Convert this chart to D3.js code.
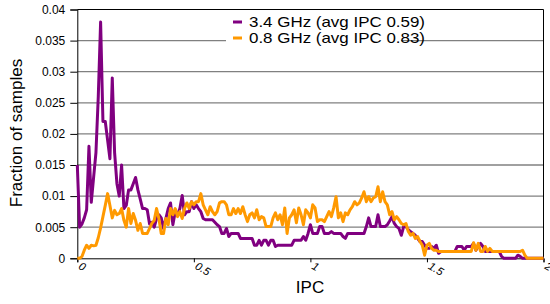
<!DOCTYPE html>
<html lang="en">
<head>
	<meta charset="UTF-8">
	<title>IPC distribution</title>
	<script src="https://cdn.jsdelivr.net/npm/d3@7/dist/d3.min.js"></script>
	<style>
		body { margin: 0; background: #fff; }
		svg { display: block; }
		text { font-family: "Liberation Sans", Arial, sans-serif; fill: #000; }
	</style>
</head>
<body>
<svg width="550" height="304"></svg>
<script>
	// histogram bins of IPC, 0.01 wide, from 0 to 2
	const binWidth = 0.01;

	const seriesNames = ["3.4 GHz (avg IPC 0.59)", "0.8 GHz (avg IPC 0.83)"];
	const seriesColors = ["#800080", "#ff9900"];

	const ghz34 = [
		0.015, 0.005, 0.0055, 0.0065, 0.0078, 0.018, 0.009, 0.013, 0.017, 0.026,
		0.038, 0.022, 0.022, 0.019, 0.016, 0.029, 0.017, 0.012, 0.010, 0.015,
		0.008, 0.0085, 0.011, 0.011, 0.012, 0.013, 0.011, 0.0095, 0.008, 0.008,
		0.0078, 0.0055, 0.0058, 0.005, 0.0064, 0.007, 0.0065, 0.0048, 0.0064, 0.008,
		0.0089, 0.0054, 0.0075, 0.007, 0.008, 0.0101, 0.007, 0.0075, 0.0075, 0.0091,
		0.008, 0.0086, 0.008, 0.0075, 0.0064, 0.0062, 0.0062, 0.0062, 0.0062, 0.0058,
		0.0054, 0.0051, 0.004, 0.004, 0.0048, 0.0035, 0.004, 0.004, 0.004, 0.004,
		0.0032, 0.0032, 0.0032, 0.0032, 0.0032, 0.0032, 0.0021, 0.0021, 0.0029, 0.0021,
		0.0029, 0.0029, 0.0021, 0.0029, 0.0029, 0.0019, 0.0021, 0.0021, 0.0021, 0.0021,
		0.0021, 0.0021, 0.0021, 0.0029, 0.0029, 0.0029, 0.0029, 0.0035, 0.0029, 0.004,
		0.0054, 0.004, 0.004, 0.004, 0.0051, 0.0051, 0.004, 0.004, 0.004, 0.0043,
		0.004, 0.004, 0.004, 0.004, 0.0035, 0.0032, 0.004, 0.004, 0.004, 0.004,
		0.004, 0.004, 0.004, 0.004, 0.0051, 0.0065, 0.0051, 0.0051, 0.0051, 0.007,
		0.0051, 0.0051, 0.0051, 0.0054, 0.006, 0.0067, 0.0056, 0.0051, 0.0048, 0.0037,
		0.0051, 0.0051, 0.0046, 0.0043, 0.004, 0.0037, 0.0032, 0.0027, 0.0027, 0.0021,
		0.0016, 0.0016, 0.0019, 0.0016, 0.0021, 0.0008, 0.0011, 0.0011, 0.0011, 0.0011,
		0.0011, 0.0011, 0.0011, 0.0019, 0.0019, 0.0019, 0.0013, 0.0019, 0.0019, 0.0019,
		0.0024, 0.0013, 0.0019, 0.0024, 0.0019, 0.0011, 0.0011, 0.0011, 0.0011, 0.0011,
		0.0011, 0.0011, 0.0003, 0, 0, 0, 0, 0, 0, 0.0005,
		0.0003, 0, 0, 0, 0, 0, 0, 0, 0, 0,
		0
	];

	const ghz08 = [
		0, 0, 0.0003, 0.0013, 0.0021, 0.0016, 0.0021, 0.002, 0.0021, 0.0033,
		0.0049, 0.0067, 0.0085, 0.0104, 0.0085, 0.0065, 0.0077, 0.007, 0.0072, 0.008,
		0.0061, 0.005, 0.008, 0.0056, 0.0072, 0.0061, 0.0045, 0.0056, 0.004, 0.004,
		0.004, 0.0048, 0.0056, 0.0061, 0.008, 0.0064, 0.004, 0.004, 0.0064, 0.0054,
		0.008, 0.007, 0.008, 0.0067, 0.0075, 0.0064, 0.008, 0.0089, 0.008, 0.0091,
		0.0086, 0.0091, 0.0091, 0.0104, 0.0086, 0.0078, 0.007, 0.0083, 0.0075, 0.007,
		0.0075, 0.0089, 0.0091, 0.0091, 0.0086, 0.007, 0.007, 0.008, 0.0072, 0.008,
		0.0072, 0.0083, 0.007, 0.0059, 0.007, 0.0073, 0.0065, 0.0078, 0.0062, 0.0067,
		0.0065, 0.0051, 0.0051, 0.0051, 0.0065, 0.0073, 0.0062, 0.007, 0.0054, 0.0081,
		0.004, 0.0065, 0.007, 0.0078, 0.0057, 0.0081, 0.007, 0.0054, 0.0078, 0.0073,
		0.0065, 0.0086, 0.0081, 0.0059, 0.0062, 0.0062, 0.0059, 0.0067, 0.0075, 0.0067,
		0.0081, 0.0099, 0.0065, 0.0073, 0.0059, 0.0073, 0.007, 0.0078, 0.0083, 0.0091,
		0.0086, 0.0089, 0.0097, 0.0107, 0.0091, 0.0099, 0.0091, 0.0097, 0.0099, 0.0115,
		0.0091, 0.0107, 0.0091, 0.0086, 0.007, 0.0075, 0.0062, 0.0067, 0.0062, 0.0056,
		0.0054, 0.0056, 0.0043, 0.0037, 0.004, 0.0032, 0.0035, 0.0027, 0.0021, 0.0005,
		0.0021, 0.0024, 0.0016, 0.0013, 0.0013, 0.0011, 0.0011, 0.0011, 0.0011, 0.0011,
		0.0011, 0.0011, 0.0011, 0.0011, 0.0011, 0.0011, 0.0011, 0.0011, 0.0011, 0.0011,
		0.0025, 0.0013, 0.0024, 0.0011, 0.0011, 0.0019, 0.0011, 0.0016, 0.0011, 0.0011,
		0.0011, 0.0011, 0.0011, 0.0011, 0.0011, 0.0011, 0.0011, 0.0011, 0.0011, 0.0011,
		0.0011, 0.0013, 0.0005, 0, 0, 0, 0, 0, 0, 0,
		0
	];

	const xTicks = [0, 0.5, 1, 1.5, 2];
	const xTickLabels = ["0", "0.5", "1", "1.5", "2"];
	const yTicks = [0, 0.005, 0.01, 0.015, 0.02, 0.025, 0.03, 0.035, 0.04];
	const yTickLabels = ["0", "0.005", "0.01", "0.015", "0.02", "0.025", "0.03", "0.035", "0.04"];

	const margin = { top: 9.5, right: 6.5, bottom: 45.7, left: 77.3 },
		width = 550 - margin.left - margin.right,
		height = 304 - margin.top - margin.bottom;

	const svg = d3.select("svg");
	const g = svg.append("g").attr("transform", `translate(${margin.left},${margin.top})`);

	const x = d3.scaleLinear().domain([0, 2]).range([0, width]);
	const y = d3.scaleLinear().domain([0, 0.04]).range([height, 0]);

	// gridlines
	g.append("g")
		.selectAll("line")
		.data(yTicks.filter(d => d > 0 && d < 0.04))
		.enter()
		.append("line")
		.attr("x1", 0).attr("x2", width)
		.attr("y1", d => y(d)).attr("y2", d => y(d))
		.style("stroke", "#808080")
		.style("stroke-width", 1.3);

	// frame: top and right
	g.append("path")
		.attr("d", `M0,${y(0.04)}H${width}V${height}`)
		.style("fill", "none")
		.style("stroke", "#000")
		.style("stroke-width", 1);

	// y axis
	const yAxis = g.append("g")
		.call(d3.axisLeft(y).tickValues(yTicks).tickSize(7).tickPadding(5)
			.tickFormat((d, i) => yTickLabels[i]));
	yAxis.select(".domain").style("stroke", "#000");
	yAxis.selectAll("line").style("stroke", "#000");
	yAxis.selectAll("text")
		.style("font-size", "12px")
		.style("font-family", "'Liberation Sans', Arial, sans-serif");

	// x axis
	const xAxis = g.append("g")
		.attr("transform", `translate(0,${height})`)
		.call(d3.axisBottom(x).tickValues(xTicks).tickSize(4).tickFormat((d, i) => xTickLabels[i]));
	xAxis.select(".domain").style("stroke", "#000");
	xAxis.selectAll("line").style("stroke", "#000");
	xAxis.selectAll("text")
		.attr("y", 0).attr("dy", 0)
		.attr("text-anchor", "start")
		.attr("transform", "translate(0,10) rotate(30)")
		.style("font-size", "11px")
		.style("font-style", "italic")
		.style("font-family", "'Liberation Sans', Arial, sans-serif");

	// series lines
	const line = d3.line()
		.x((d, i) => x(i * binWidth))
		.y(d => y(d));

	[ghz34, ghz08].forEach((s, k) => {
		g.append("path")
			.attr("d", line(s))
			.style("fill", "none")
			.style("stroke", seriesColors[k])
			.style("stroke-width", 3)
			.style("stroke-linejoin", "round");
	});

	// legend (white box hides the grid behind it)
	svg.append("rect")
		.attr("x", 226).attr("y", 11)
		.attr("width", 175).attr("height", 32)
		.style("fill", "#fff");

	const legend = svg.append("g")
		.selectAll("g")
		.data(seriesNames)
		.enter()
		.append("g")
		.attr("transform", (d, i) => `translate(233,${22 + i * 16})`);

	legend.append("line")
		.attr("x1", 0).attr("x2", 9)
		.style("stroke", (d, i) => seriesColors[i])
		.style("stroke-width", 3);

	legend.append("text")
		.attr("x", 16).attr("y", 5)
		.attr("textLength", 176)
		.attr("lengthAdjust", "spacingAndGlyphs")
		.style("font-size", "15px")
		.text(d => d);

	// axis titles
	svg.append("text")
		.attr("x", 310).attr("y", 293)
		.attr("text-anchor", "middle")
		.style("font-size", "17px")
		.text("IPC");

	svg.append("text")
		.attr("transform", "translate(21.5,133) rotate(-90)")
		.attr("text-anchor", "middle")
		.style("font-size", "17px")
		.text("Fraction of samples");
</script>
</body>
</html>
